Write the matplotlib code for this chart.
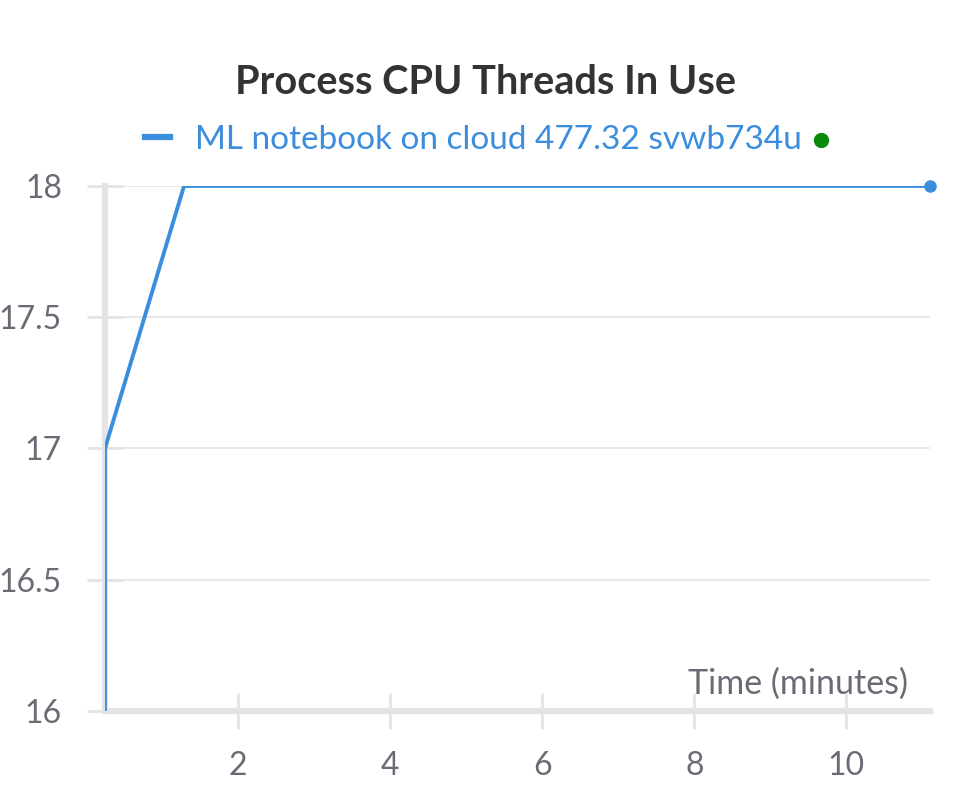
import matplotlib
matplotlib.use("Agg")
import matplotlib.pyplot as plt
from matplotlib.lines import Line2D

# --- datos ---
minutos = [0.25, 0.25, 1.29, 11.1]
hilos = [16, 17, 18, 18]
nombre_run = "ML notebook on cloud 477.32 svwb734u"
xticks = [2, 4, 6, 8, 10]
yticks = [16, 16.5, 17, 17.5, 18]
ytick_labels = ["16", "16.5", "17", "17.5", "18"]

AZUL = "#3b8ede"
GRIS_TXT = "#6b6a75"
GRIS_EJE = "#e4e4e6"

plt.rcParams['font.family'] = ['Lato', 'DejaVu Sans']

fig = plt.figure(figsize=(9.71, 7.85), dpi=100)
ax = fig.add_axes([0.1081, 0.0943, 0.8497, 0.6688])

ax.plot(minutos, hilos, color=AZUL, linewidth=2.8, solid_capstyle='round', zorder=3)
ax.plot(minutos[-1], hilos[-1], 'o', color=AZUL, markersize=8, zorder=4, clip_on=False)

ax.set_xlim(minutos[0], minutos[-1])
ax.set_ylim(16, 18)
ax.set_xticks(xticks)
ax.set_yticks(yticks)
ax.set_yticklabels(ytick_labels)

# grilla horizontal
ax.grid(axis='y', color=GRIS_EJE, linewidth=1.2, zorder=0)
ax.grid(axis='x', visible=False)

for s in ['top', 'right']:
    ax.spines[s].set_visible(False)
for s in ['left', 'bottom']:
    ax.spines[s].set_color(GRIS_EJE)
    ax.spines[s].set_linewidth(4.5)
    ax.spines[s].set_zorder(1)

ax.tick_params(axis='both', direction='inout', length=26, width=2,
               color=GRIS_EJE, labelcolor=GRIS_TXT, labelsize=23)
ax.tick_params(axis='y', pad=18)
ax.tick_params(axis='x', pad=16)

ax.text(0.973, 0.033, "Time (minutes)", transform=ax.transAxes,
        ha='right', va='baseline', fontsize=24.5, color=GRIS_TXT)

# titulo
fig.text(0.5, 0.895, "Process CPU Threads In Use", ha='center', va='center',
         fontsize=28.5, fontweight='bold', color='#333333')

# leyenda: linea + texto + punto verde
leg = fig.legend(handles=[Line2D([], [], color=AZUL, linewidth=4.5)], labels=[nombre_run],
                 loc='center', bbox_to_anchor=(0.488, 0.822), frameon=False,
                 handlelength=0.75, handletextpad=0.75, fontsize=24, labelcolor=AZUL)
fig.canvas.draw()
bb = leg.get_texts()[0].get_window_extent(fig.canvas.get_renderer())
inv = fig.transFigure.inverted()
x1, y0 = inv.transform((bb.x1, bb.y0))
_, y1 = inv.transform((bb.x1, bb.y1))
fig.add_artist(Line2D([x1 + 0.019], [(y0 + y1) / 2], marker='o', color='#0a8a0a',
                      markersize=10, transform=fig.transFigure))

fig.savefig("out.png", dpi=100, facecolor='white')
